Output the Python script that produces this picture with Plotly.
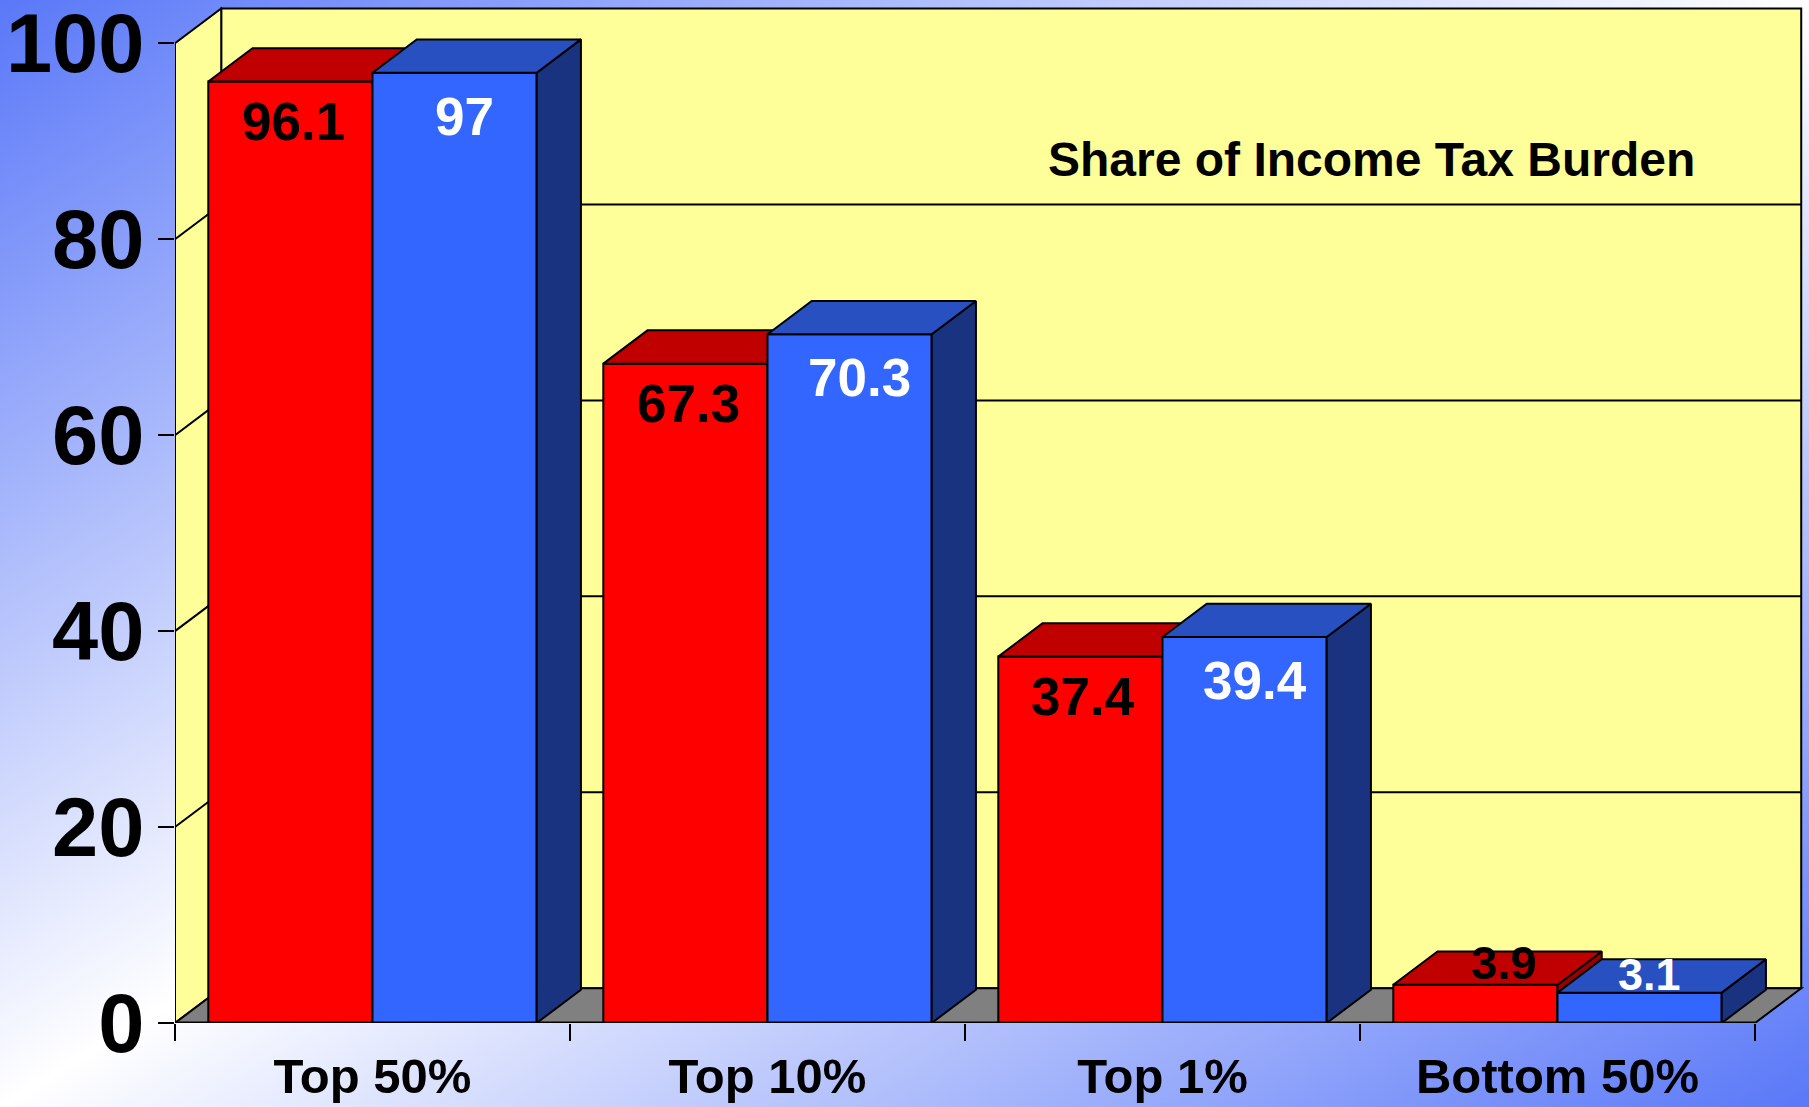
import base64
import plotly.graph_objects as go

# ---------------- data ----------------
categories = ["Top 50%", "Top 10%", "Top 1%", "Bottom 50%"]
series_red = [96.1, 67.3, 37.4, 3.9]
series_blue = [97.0, 70.3, 39.4, 3.1]
y_ticks = [0, 20, 40, 60, 80, 100]
chart_label = "Share of Income Tax Burden"

# ---------------- geometry / style ----------------
FONT = "Liberation Sans, Arial, Helvetica, sans-serif"
PX_X = 395.0          # px per category
PX_Y = 9.797          # px per unit
L_M, R_M, T_M, B_M = 175, 3, 4, 84
FIG_W, FIG_H = 1809, 1107
PLOT_W = FIG_W - L_M - R_M
PLOT_H = FIG_H - T_M - B_M
XMIN = -0.5
XMAX = XMIN + PLOT_W / PX_X
YMAX = PLOT_H / PX_Y
W = 0.4157                 # bar width
BDX, BDY = 0.112, 3.4      # bar depth
WDX, WDY = 0.117, 3.55     # wall depth
XEND = XMIN + len(categories)

RED = dict(front="#FF0000", top="#C00000", side="#990000", text="black")
BLUE = dict(front="#3366FF", top="#2850C0", side="#1A3380", text="white")

xs = list(range(len(categories)))

fig = go.Figure()


def faces(values, offset):
    tx, ty, sx, sy = [], [], [], []
    for i, v in zip(xs, values):
        xl = i + offset
        xr = xl + W
        tx += [xl, xr, xr + BDX, xl + BDX, xl, None]
        ty += [v, v, v + BDY, v + BDY, v, None]
        sx += [xr, xr + BDX, xr + BDX, xr, xr, None]
        sy += [0, BDY, v + BDY, v, 0, None]
    return tx, ty, sx, sy


def add_series(values, offset, col, xa, ya):
    fig.add_trace(go.Bar(x=xs, y=values, width=W, offset=offset,
                         marker=dict(color=col["front"], line=dict(color="black", width=2)),
                         xaxis=xa, yaxis=ya, showlegend=False, hoverinfo="skip"))
    tx, ty, sx, sy = faces(values, offset)
    fig.add_trace(go.Scatter(x=sx, y=sy, mode="lines", fill="toself", fillcolor=col["side"],
                             line=dict(color="black", width=2), xaxis=xa, yaxis=ya,
                             showlegend=False, hoverinfo="skip"))
    fig.add_trace(go.Scatter(x=tx, y=ty, mode="lines", fill="toself", fillcolor=col["top"],
                             line=dict(color="black", width=2), xaxis=xa, yaxis=ya,
                             showlegend=False, hoverinfo="skip"))


add_series(series_red, -W, RED, "x", "y")
add_series(series_blue, 0.0, BLUE, "x2", "y2")

# ---------------- walls, floor, gridlines ----------------
shapes = []
line_k = dict(color="black", width=2)
shapes.append(dict(type="rect", xref="x", yref="y", x0=XMIN + WDX, x1=XEND + WDX,
                   y0=WDY, y1=y_ticks[-1] + WDY, fillcolor="#FFFF99", line=line_k, layer="below"))
shapes.append(dict(type="path", xref="x", yref="y",
                   path=f"M {XMIN},0 L {XMIN + WDX},{WDY} L {XMIN + WDX},{y_ticks[-1] + WDY} L {XMIN},{y_ticks[-1]} Z",
                   fillcolor="#FFFF99", line=line_k, layer="below"))
shapes.append(dict(type="path", xref="x", yref="y",
                   path=f"M {XMIN},0 L {XEND},0 L {XEND + WDX},{WDY} L {XMIN + WDX},{WDY} Z",
                   fillcolor="#808080", line=line_k, layer="below"))
for v in y_ticks[1:-1]:
    shapes.append(dict(type="line", xref="x", yref="y", x0=XMIN + WDX, x1=XEND + WDX,
                       y0=v + WDY, y1=v + WDY, line=line_k, layer="below"))
    shapes.append(dict(type="line", xref="x", yref="y", x0=XMIN, x1=XMIN + WDX,
                       y0=v, y1=v + WDY, line=line_k, layer="below"))
shapes.append(dict(type="line", xref="x", yref="y", x0=XMIN, x1=XEND, y0=0, y1=0,
                   line=dict(color="black", width=3), layer="above"))

# ---------------- labels ----------------
ann = []
for i, (a, b) in enumerate(zip(series_red, series_blue)):
    for v, xc, col, is_red in ((a, i - W / 2, RED, True), (b, i + W / 2, BLUE, False)):
        small = v < 10
        if small:
            xsh, ysh, fs, ya = (28, -6, 47, "bottom") if is_red else (10, -9, 45, "bottom")
        else:
            xsh, ysh, fs, ya = (3, -8, 53, "top") if is_red else (10, -12, 53, "top")
        ann.append(dict(x=xc, y=v, xref="x", yref="y", text=f"{v:g}", showarrow=False,
                        xanchor="center", yanchor=ya, xshift=xsh, yshift=ysh,
                        font=dict(family=FONT, size=fs, color=col["text"], weight="bold")))
ann.append(dict(x=XMIN + (1371.5 - L_M) / PX_X, y=(1023 - 131) / PX_Y, xref="x", yref="y",
                text=chart_label, showarrow=False, xanchor="center", yanchor="top",
                font=dict(family=FONT, size=48, color="black", weight="bold")))

# ---------------- background gradient ----------------
svg = (f'<svg xmlns="http://www.w3.org/2000/svg" width="{FIG_W}" height="{FIG_H}" '
       f'viewBox="0 0 {FIG_W} {FIG_H}" preserveAspectRatio="none"><defs>'
       '<linearGradient id="g" x1="0" y1="0" x2="1" y2="1">'
       '<stop offset="0" stop-color="#5A78F8"/><stop offset="0.5" stop-color="#FFFFFF"/>'
       '<stop offset="1" stop-color="#5A78F8"/></linearGradient></defs>'
       f'<rect width="{FIG_W}" height="{FIG_H}" fill="url(#g)"/></svg>')
src = "data:image/svg+xml;base64," + base64.b64encode(svg.encode()).decode()

fig.update_layout(
    width=FIG_W, height=FIG_H, autosize=False,
    margin=dict(l=L_M, r=R_M, t=T_M, b=B_M, pad=0),
    paper_bgcolor="white", plot_bgcolor="rgba(0,0,0,0)",
    barmode="overlay", showlegend=False,
    shapes=shapes, annotations=ann,
    images=[dict(source=src, xref="paper", yref="paper",
                 x=-L_M / PLOT_W, y=1 + T_M / PLOT_H, sizex=FIG_W / PLOT_W, sizey=FIG_H / PLOT_H,
                 xanchor="left", yanchor="top", sizing="stretch", layer="below")],
    xaxis=dict(range=[XMIN, XMAX], tickmode="array", tickvals=xs, ticktext=categories,
               ticks="", showgrid=False, zeroline=False, showline=False, automargin=False,
               tickfont=dict(family=FONT, size=49, color="black", weight="bold"),
               ticklabelstandoff=20, ticklabeloverflow="allow",
               minor=dict(tickmode="array", tickvals=[XMIN + k for k in range(len(categories) + 1)],
                          ticks="outside", ticklen=17, tickwidth=2, tickcolor="black", showgrid=False)),
    yaxis=dict(range=[0, YMAX], tickmode="array", tickvals=y_ticks, ticks="outside",
               ticklen=16, tickwidth=2, tickcolor="black", showgrid=False, zeroline=False,
               showline=False, ticklabelstandoff=-3, ticklabeloverflow="allow", automargin=False,
               tickfont=dict(family=FONT, size=83, color="black", weight="bold")),
    xaxis2=dict(range=[XMIN, XMAX], overlaying="x", anchor="y2", visible=False),
    yaxis2=dict(range=[0, YMAX], overlaying="y", anchor="x2", visible=False),
)

fig.write_html("out.html", config={"displayModeBar": False},
               post_script="document.body.style.margin='0';document.body.style.overflow='hidden';")
